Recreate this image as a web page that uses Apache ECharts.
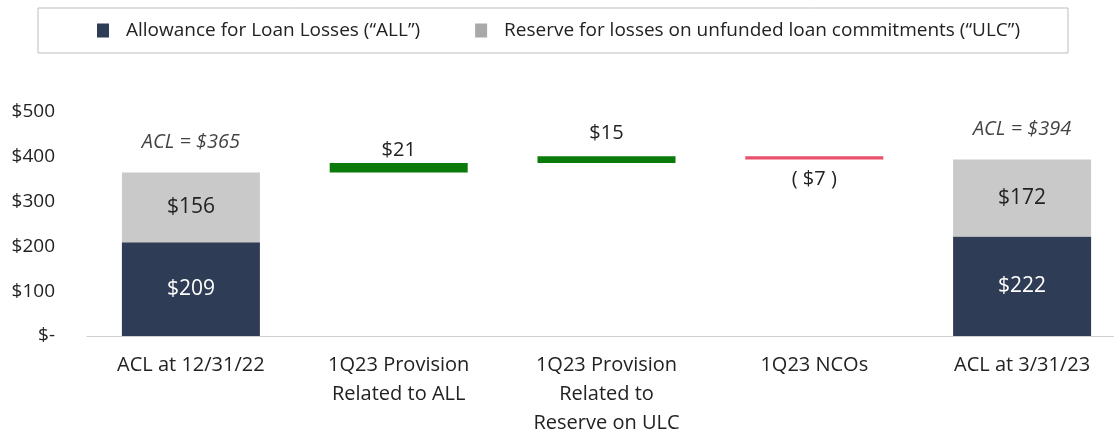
<!DOCTYPE html>
<html>
<head>
<meta charset="utf-8">
<script src="https://cdn.jsdelivr.net/npm/echarts@6/dist/echarts.min.js"></script>
<style>
  html, body { margin: 0; padding: 0; background: #fff; }
  #chart { width: 1114px; height: 433px; }
</style>
</head>
<body>
<div id="chart"></div>
<script>
const categories = [
  "ACL at 12/31/22",
  "1Q23 Provision\nRelated to ALL",
  "1Q23 Provision\nRelated to\nReserve on ULC",
  "1Q23 NCOs",
  "ACL at 3/31/23",
];
const allValues = [209, "-", "-", "-", 222];
const ulcValues = [156, "-", "-", "-", 172];
const baseValues = ["-", 365, 386, 394, "-"];
const changeValues = ["-", 21, 15, 7, "-"];
const changeSigns = [0, 1, 1, -1, 0];
const aclTotals = [365, "-", "-", "-", 394];
const yTicks = [0, 100, 200, 300, 400, 500];

const font = "'Open Sans', 'Noto Sans', sans-serif";
const navy = "#2f3c55";
const grey = "#c9c9c9";
const green = "#0a7a0a";
const red = "#e8506b";

const chart = echarts.init(document.getElementById("chart"));

chart.setOption({
  animation: false,
  textStyle: { fontFamily: font, color: "#222" },
  legend: {
    top: 8,
    left: 38,
    padding: [13, 48, 13, 59],
    itemGap: 55,
    itemWidth: 12,
    itemHeight: 14,
    icon: "rect",
    borderColor: "#bdbdbd",
    borderWidth: 1,
    textStyle: { fontFamily: font, fontSize: 19, color: "#222", padding: [0, 0, 0, 12] },
    data: [
      { name: "Allowance for Loan Losses (\u201cALL\u201d)", itemStyle: { color: navy } },
      { name: "Reserve for losses on unfunded loan commitments (\u201cULC\u201d)", itemStyle: { color: "#a9a9a9" } },
    ],
  },
  grid: { left: 87, right: -12, top: 112, bottom: 97, outerBoundsMode: "none" },
  xAxis: {
    type: "category",
    data: categories,
    axisLine: { lineStyle: { color: "#d0d0d0", width: 1 } },
    axisTick: { show: false },
    axisLabel: { color: "#222", fontSize: 20, lineHeight: 29, margin: 15, interval: 0, fontFamily: font },
  },
  yAxis: {
    type: "value",
    min: 0,
    max: 500,
    interval: 100,
    splitLine: { show: false },
    axisLine: { show: false },
    axisTick: { show: false },
    axisLabel: {
      color: "#222",
      fontSize: 19,
      margin: 32,
      fontFamily: font,
      formatter: (v) => (yTicks.includes(v) ? (v === 0 ? "$-" : "$" + v) : ""),
    },
  },
  series: [
    {
      name: "base",
      type: "bar",
      stack: "w",
      data: baseValues,
      barWidth: 138,
      itemStyle: { color: "transparent" },
      silent: true,
    },
    {
      name: "Allowance for Loan Losses (\u201cALL\u201d)",
      type: "bar",
      stack: "w",
      data: allValues,
      barWidth: 138,
      itemStyle: { color: navy },
      label: { show: true, position: "inside", color: "#fff", fontSize: 21, fontFamily: font, formatter: (p) => "$" + p.value },
    },
    {
      name: "Reserve for losses on unfunded loan commitments (\u201cULC\u201d)",
      type: "bar",
      stack: "w",
      data: ulcValues,
      barWidth: 138,
      itemStyle: { color: grey },
      label: { show: true, position: "inside", color: "#222", fontSize: 21, fontFamily: font, formatter: (p) => "$" + p.value },
    },
    {
      name: "change",
      type: "bar",
      stack: "w",
      barWidth: 138,
      data: changeValues.map((v, i) => {
        if (v === "-") return v;
        const up = changeSigns[i] > 0;
        return {
          value: v,
          itemStyle: { color: up ? green : red },
          label: {
            show: true,
            position: up ? "top" : "bottom",
            distance: i === 2 ? 13 : up ? 3 : 10,
            color: "#222",
            fontSize: 20,
            fontFamily: font,
            formatter: up ? "$" + v : "( $" + v + " )",
          },
        };
      }),
    },
    {
      name: "acl",
      type: "scatter",
      data: aclTotals,
      symbolSize: 0,
      itemStyle: { color: "#111" },
      label: {
        show: true,
        position: "top",
        distance: 20,
        color: "#111",
        fontSize: 20,
        fontStyle: "italic",
        fontFamily: font,
        formatter: (p) => "ACL = $" + p.value,
      },
    },
  ],
});
</script>
</body>
</html>
